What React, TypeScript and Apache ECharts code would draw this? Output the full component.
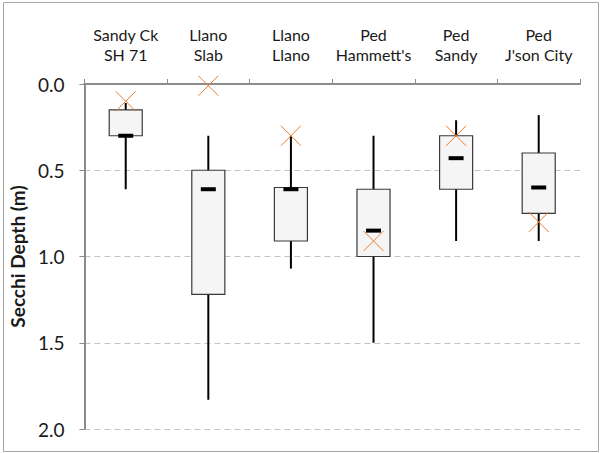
import React, { useEffect, useRef } from "react";
import * as echarts from "echarts";

const categories = ["Sandy Ck\nSH 71", "Llano\nSlab", "Llano\nLlano", "Ped\nHammett's", "Ped\nSandy", "Ped\nJ'son City"];
const whiskerTop = [0.11, 0.30, 0.30, 0.30, 0.21, 0.18];
const boxTop = [0.15, 0.50, 0.60, 0.61, 0.30, 0.40];
const medians = [0.30, 0.61, 0.61, 0.85, 0.43, 0.60];
const boxBottom = [0.30, 1.22, 0.91, 1.00, 0.61, 0.75];
const whiskerBottom = [0.61, 1.83, 1.07, 1.50, 0.91, 0.91];
const means = [0.10, 0.01, 0.30, 0.91, 0.30, 0.80];
const yTicks = { min: 0, max: 2, interval: 0.5 };

const FONT = "Lato, 'Liberation Sans', sans-serif";

export default function App() {
  const ref = useRef<HTMLDivElement>(null);
  useEffect(() => {
    if (!ref.current) return;
    const chart = echarts.init(ref.current, undefined, { renderer: "svg" });
    const rows = categories.map((_, i) => [
      i,
      whiskerTop[i],
      boxTop[i],
      medians[i],
      boxBottom[i],
      whiskerBottom[i],
      means[i],
    ]);
    const option: any = {
      animation: false,
      backgroundColor: "#ffffff",
      textStyle: { fontFamily: FONT },
      graphic: [
        {
          type: "rect",
          shape: { x: 3.5, y: 2.5, width: 595, height: 449 },
          style: { fill: "none", stroke: "#a6a6a6", lineWidth: 1 },
          silent: true,
          z: -10,
        },
      ],
      grid: { left: 72, right: 21, top: 84, bottom: 24, containLabel: false },
      xAxis: {
        type: "category",
        position: "top",
        data: categories,
        boundaryGap: true,
        axisLine: { show: true, lineStyle: { color: "#8c8c8c", width: 2 } },
        axisTick: { show: true, length: 5, lineStyle: { color: "#8c8c8c", width: 1 } },
        axisLabel: {
          color: "#1a1a1a",
          fontSize: 16,
          fontFamily: FONT,
          lineHeight: 20,
          margin: 20,
          interval: 0,
        },
        splitLine: { show: false },
      },
      yAxis: {
        type: "value",
        inverse: true,
        min: yTicks.min,
        max: yTicks.max,
        interval: yTicks.interval,
        name: "Secchi Depth (m)",
        nameLocation: "middle",
        nameRotate: 90,
        nameGap: 52,
        nameTextStyle: { fontSize: 19, fontWeight: "bold", color: "#1a1a1a", fontFamily: FONT },
        axisLine: { show: true, lineStyle: { color: "#8c8c8c", width: 2 } },
        axisTick: { show: true, length: 5, lineStyle: { color: "#8c8c8c", width: 1 } },
        axisLabel: {
          color: "#1a1a1a",
          fontSize: 19,
          fontFamily: FONT,
          margin: 20,
          formatter: (v: number) => v.toFixed(1),
        },
        splitLine: { show: true, lineStyle: { color: "#c4c4c4", type: [6, 4], width: 1 } },
      },
      series: [
        {
          type: "custom",
          data: rows,
          encode: { x: 0, y: [1, 2, 3, 4, 5, 6] },
          renderItem: (params: any, api: any) => {
            const i = api.value(0);
            const pWTop = api.coord([i, api.value(1)]);
            const pQ1 = api.coord([i, api.value(2)]);
            const pMed = api.coord([i, api.value(3)]);
            const pQ3 = api.coord([i, api.value(4)]);
            const pWBot = api.coord([i, api.value(5)]);
            const pMean = api.coord([i, api.value(6)]);
            const band = api.size([1, 0])[0];
            const w = band * 0.4;
            const cx = pQ1[0];
            const xs = 10;
            return {
              type: "group",
              children: [
                {
                  type: "line",
                  shape: { x1: cx, y1: pWTop[1], x2: cx, y2: pWBot[1] },
                  style: { stroke: "#000000", lineWidth: 2 },
                },
                {
                  type: "rect",
                  shape: { x: cx - w / 2, y: pQ1[1], width: w, height: pQ3[1] - pQ1[1] },
                  style: { fill: "#f5f5f5", stroke: "#3a3a3a", lineWidth: 1.2 },
                },
                {
                  type: "rect",
                  shape: { x: cx - 7.5, y: pMed[1] - 2, width: 15, height: 4 },
                  style: { fill: "#000000" },
                },
                {
                  type: "line",
                  shape: { x1: pMean[0] - xs, y1: pMean[1] - xs, x2: pMean[0] + xs, y2: pMean[1] + xs },
                  style: { stroke: "#ED7D31", lineWidth: 1 },
                },
                {
                  type: "line",
                  shape: { x1: pMean[0] - xs, y1: pMean[1] + xs, x2: pMean[0] + xs, y2: pMean[1] - xs },
                  style: { stroke: "#ED7D31", lineWidth: 1 },
                },
              ],
            };
          },
        },
      ],
    };
    chart.setOption(option);
    return () => chart.dispose();
  }, []);
  return (
    <div
      ref={ref}
      style={{ position: "fixed", left: 0, top: 0, width: 601, height: 453, background: "#fff" }}
    />
  );
}
